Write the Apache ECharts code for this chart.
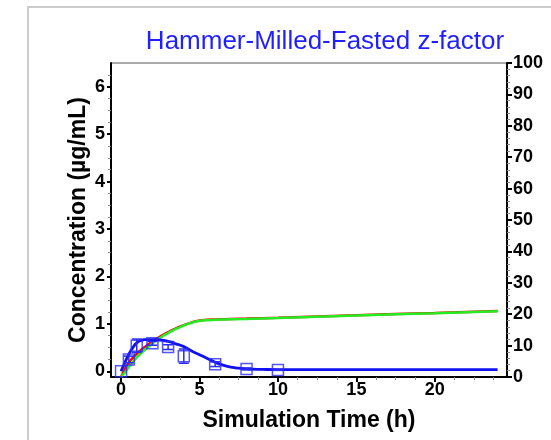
<!DOCTYPE html>
<html><head><meta charset="utf-8">
<script src="https://cdn.jsdelivr.net/npm/echarts@6/dist/echarts.min.js"></script>
<style>html,body{margin:0;padding:0;background:#fff}#c{width:551px;height:440px}</style>
</head><body><div id="c"></div>
<script>
// Simulated plasma concentration (µg/mL) - blue line
const simTime = [0,0.25,0.5,0.75,1,1.25,1.5,2,2.5,3,3.5,4,4.5,5,5.5,6,6.5,7,7.5,8,9,10,12,16,20,24];
const simConc = [0,0.19,0.36,0.5,0.6,0.65,0.67,0.67,0.66,0.63,0.58,0.52,0.43,0.35,0.27,0.19,0.13,0.09,0.065,0.05,0.04,0.035,0.035,0.035,0.035,0.035];
// Observed concentration with error bars
const obsTime = [0,0.5,1,2,3,4,6,8,10];
const obsConc = [0,0.25,0.54,0.59,0.51,0.32,0.15,0.05,0.03];
const obsErr  = [0,0.07,0.14,0.04,0.05,0.15,0.05,0.02,0.01];
// Right-axis curves (%)
const absTime = [0,0.25,0.5,0.75,1,1.5,2,2.5,3,3.5,4,4.5,5,5.5,6,8,10,15,20,24];
const greenVals = [0,1.5,3.2,4.8,6.2,8.6,10.7,12.5,14.0,15.3,16.4,17.3,17.9,18.1,18.2,18.5,18.8,19.6,20.3,20.9];
const redVals   = [0,2.6,4.6,6.1,7.4,9.5,11.3,12.9,14.3,15.5,16.5,17.4,18.0,18.2,18.3,18.6,18.9,19.7,20.4,21.0];
const xTicks = [0,5,10,15,20];
const xMinor = [1.25,2.5,3.75,6.25,7.5,8.75,11.25,12.5,13.75,16.25,17.5,18.75,21.25,22.5,23.75];
const yTicks = [0,1,2,3,4,5,6];
const yMinor = [0.25,0.5,0.75,1.25,1.5,1.75,2.25,2.5,2.75,3.25,3.5,3.75,4.25,4.5,4.75,5.25,5.5,5.75,6.25];

const FONT = '"Liberation Sans", Arial, sans-serif';
const zip = (a,b)=>a.map((v,i)=>[v,b[i]]);
const chart = echarts.init(document.getElementById('c'), null, {renderer:'canvas'});
const lbl = {color:'#000', fontWeight:'bold', fontSize:18, fontFamily:FONT};
const XMIN=-0.64, XMAX=24.6, YMIN=-0.12, YMAX=6.5;
chart.setOption({
  animation:false,
  backgroundColor:'#fff',
  title:{text:'Hammer-Milled-Fasted z-factor', left:320, textAlign:'center', top:24,
    textStyle:{color:'#1f1fff', fontSize:26, fontWeight:'normal', fontFamily:FONT}},
  graphic:[{type:'rect', shape:{x:28,y:7,width:600,height:500}, style:{fill:'none', stroke:'#cccccc', lineWidth:2}, silent:true}],
  grid:{left:111, right:44, top:63, bottom:63, show:true, borderColor:'#555', borderWidth:1, backgroundColor:'#fff'},
  xAxis:[{type:'value', min:XMIN, max:XMAX,
      name:'Simulation Time (h)', nameLocation:'middle', nameGap:32, nameMoveOverlap:false,
      nameTextStyle:{color:'#000', fontWeight:'bold', fontSize:23, fontFamily:FONT},
      axisLine:{show:true, onZero:false, lineStyle:{color:'#000', width:2}},
      axisTick:{show:true, customValues:xTicks, length:5, lineStyle:{color:'#000', width:2}},
      axisLabel:Object.assign({customValues:xTicks, margin:4}, lbl),
      splitLine:{show:false}},
    {type:'value', min:XMIN, max:XMAX, position:'bottom',
      axisLine:{show:false, onZero:false}, axisLabel:{show:false}, splitLine:{show:false},
      axisTick:{show:true, customValues:xMinor, length:3, lineStyle:{color:'#888', width:1}}}],
  yAxis:[{type:'value', min:YMIN, max:YMAX, position:'left',
      name:'Concentration (µg/mL)', nameLocation:'middle', nameGap:21, nameMoveOverlap:false,
      nameTextStyle:{color:'#000', fontWeight:'bold', fontSize:23, fontFamily:FONT},
      axisLine:{show:true, onZero:false, lineStyle:{color:'#000', width:2}},
      axisTick:{show:true, customValues:yTicks, length:4, lineStyle:{color:'#000', width:2}},
      axisLabel:Object.assign({customValues:yTicks, margin:6}, lbl),
      splitLine:{show:false}},
    {type:'value', min:0, max:100, interval:10, position:'right',
      axisLine:{show:true, onZero:false, lineStyle:{color:'#000', width:2}},
      axisTick:{show:true, length:5, lineStyle:{color:'#000', width:2}},
      minorTick:{show:true, splitNumber:5, length:3, lineStyle:{color:'#888'}},
      axisLabel:Object.assign({margin:6}, lbl),
      splitLine:{show:false}},
    {type:'value', min:YMIN, max:YMAX, position:'left',
      axisLine:{show:false, onZero:false}, axisLabel:{show:false}, splitLine:{show:false},
      axisTick:{show:true, customValues:yMinor, length:3, lineStyle:{color:'#888', width:1}}}],
  series:[
    {type:'line', yAxisIndex:1, data:zip(absTime, redVals), smooth:true, symbol:'none', lineStyle:{color:'#ff0000', width:2.5}, z:2},
    {type:'line', yAxisIndex:1, data:zip(absTime, greenVals), smooth:true, symbol:'none', lineStyle:{color:'#22ee22', width:2.5}, z:3},
    {type:'line', yAxisIndex:0, data:zip(simTime, simConc), smooth:true, symbol:'none', lineStyle:{color:'#1010f0', width:2.8}, z:4},
    {type:'custom', yAxisIndex:0, data:obsTime.map((t,i)=>[t,obsConc[i],obsErr[i]]), z:5,
      renderItem:function(params, api){
        const x=api.value(0), y=api.value(1), e=api.value(2);
        if(!e) return {type:'group', children:[]};
        const top=api.coord([x,y+e]), bot=api.coord([x,y-e]);
        const st={stroke:'#2a2af5', lineWidth:1.5};
        return {type:'group', children:[
          {type:'line', shape:{x1:top[0],y1:top[1],x2:bot[0],y2:bot[1]}, style:st},
          {type:'line', shape:{x1:top[0]-5,y1:top[1],x2:top[0]+5,y2:top[1]}, style:st},
          {type:'line', shape:{x1:bot[0]-5,y1:bot[1],x2:bot[0]+5,y2:bot[1]}, style:st}]};
      }},
    {type:'scatter', yAxisIndex:0, data:zip(obsTime, obsConc), symbol:'rect', symbolSize:11, z:6,
      itemStyle:{color:'rgba(0,0,0,0)', borderColor:'#2a2af5', borderWidth:1.5}}
  ]
});
</script></body></html>
